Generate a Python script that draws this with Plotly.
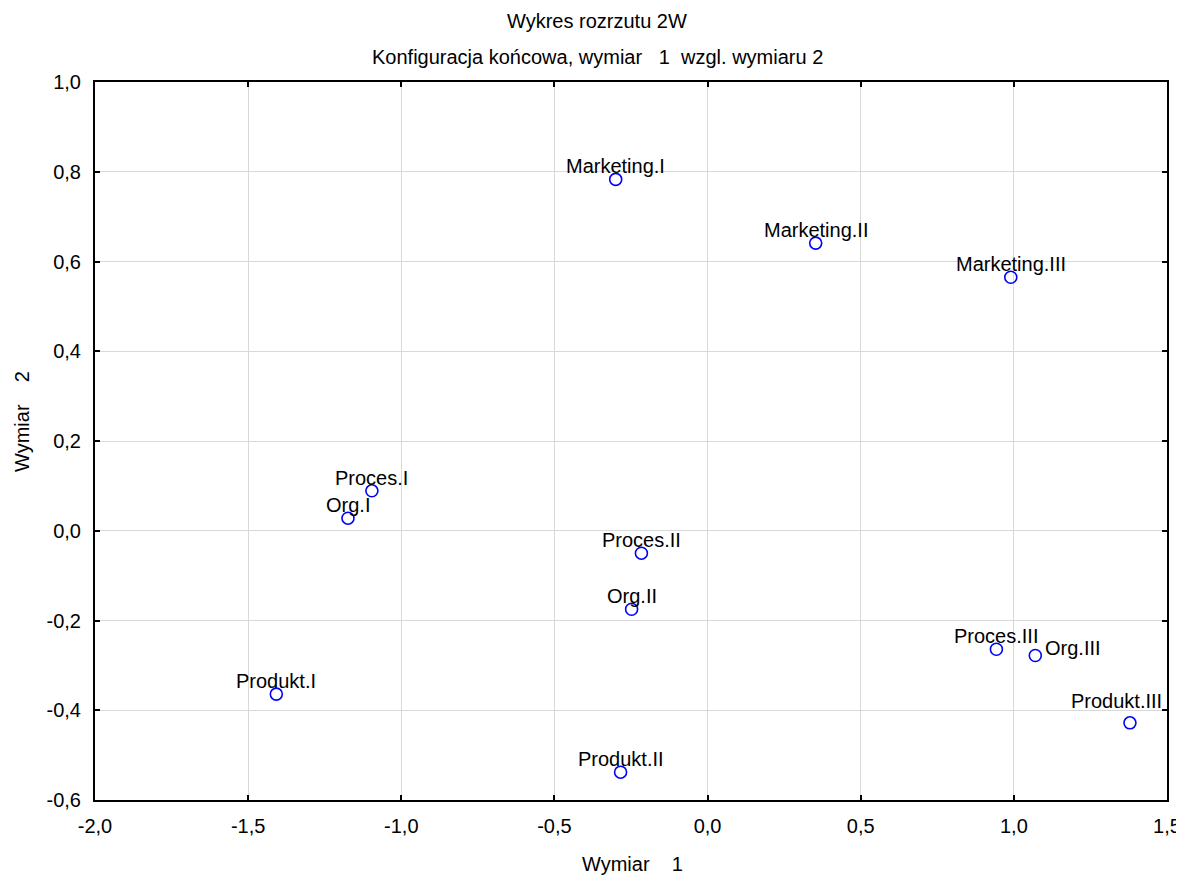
import plotly.graph_objects as go

labels = ["Marketing.I", "Marketing.II", "Marketing.III",
          "Proces.I", "Org.I", "Proces.II", "Org.II",
          "Proces.III", "Org.III", "Produkt.III",
          "Produkt.I", "Produkt.II"]
dim1 = [-0.300, 0.353, 0.990, -1.096, -1.174, -0.216, -0.248,
        0.943, 1.070, 1.379, -1.408, -0.284]
dim2 = [0.783, 0.641, 0.565, 0.089, 0.028, -0.050, -0.175,
        -0.264, -0.278, -0.428, -0.364, -0.538]

x_ticks = [-2.0, -1.5, -1.0, -0.5, 0.0, 0.5, 1.0, 1.5]
x_ticktext = ["-2,0", "-1,5", "-1,0", "-0,5", "0,0", "0,5", "1,0", "1,5"]
y_ticks = [-0.6, -0.4, -0.2, 0.0, 0.2, 0.4, 0.6, 0.8, 1.0]
y_ticktext = ["-0,6", "-0,4", "-0,2", "0,0", "0,2", "0,4", "0,6", "0,8", "1,0"]

title1 = "Wykres rozrzutu 2W"
title2 = "Konfiguracja końcowa, wymiar\u00a0\u00a0\u00a01\u00a0\u00a0wzgl. wymiaru 2"
xtitle = "Wymiar\u00a0\u00a0\u00a0\u00a01"
ytitle = "Wymiar\u00a0\u00a0\u00a0\u00a02"

FONT = "Liberation Sans, Arial, sans-serif"
FS = 20

# page body has an 8px margin
OFF = 8
W, H = 1184, 877 - OFF
# plot-area edges in window pixels
PX0, PX1, PY0, PY1 = 95, 1167, 82, 800
L, T = PX0 - OFF, PY0 - OFF
R, B = W - (PX1 - OFF), H - (PY1 - OFF)

# label placement tweaks (pixels)
default_off = dict(xanchor="center", xshift=0, yshift=0)
label_off = {
    "Org.III": dict(xanchor="left", xshift=8, yshift=-5),
    "Produkt.III": dict(xanchor="center", xshift=-13, yshift=9),
}

fig = go.Figure()
fig.add_trace(go.Scatter(
    x=dim1, y=dim2, mode="markers",
    marker=dict(symbol="circle-open", size=12, color="#0000ff",
                line=dict(width=1.6, color="#0000ff")),
    hovertext=labels, showlegend=False,
))

annotations = []
for lab, xv, yv in zip(labels, dim1, dim2):
    o = label_off.get(lab, default_off)
    annotations.append(dict(
        x=xv, y=yv, xref="x", yref="y", text=lab, showarrow=False,
        xanchor=o["xanchor"], yanchor="bottom",
        xshift=o["xshift"], yshift=o["yshift"],
        font=dict(family=FONT, size=FS, color="black"),
    ))

def paper_y(py):  # window pixel -> paper coordinate
    return 1 - (py - PY0) / (PY1 - PY0)

def paper_x(px):
    return (px - PX0) / (PX1 - PX0)

txt_font = dict(family=FONT, size=FS, color="black")
annotations += [
    dict(text=title1, xref="paper", yref="paper", x=paper_x(597), y=paper_y(9),
         xanchor="center", yanchor="top", borderpad=0, showarrow=False,
         font=txt_font),
    dict(text=title2, xref="paper", yref="paper", x=paper_x(597), y=paper_y(57),
         xanchor="center", yanchor="middle", showarrow=False, font=txt_font),
    dict(text=xtitle, xref="paper", yref="paper", x=paper_x(632), y=paper_y(864),
         xanchor="center", yanchor="middle", showarrow=False, font=txt_font),
    dict(text=ytitle, xref="paper", yref="paper", x=paper_x(22), y=paper_y(422),
         xanchor="center", yanchor="middle", showarrow=False, font=txt_font,
         textangle=-90),
]

axis_common = dict(
    showgrid=True, gridcolor="#d9d9d9", gridwidth=1,
    showline=True, linecolor="black", linewidth=2, mirror="ticks",
    ticks="inside", ticklen=5, tickwidth=1.5, tickcolor="black",
    zeroline=False, automargin=False,
    tickfont=dict(family=FONT, size=FS, color="black"),
)

fig.update_layout(
    width=W, height=H,
    margin=dict(l=L, r=R, t=T, b=B, autoexpand=False),
    paper_bgcolor="white", plot_bgcolor="white",
    font=dict(family=FONT, size=FS, color="black"),
    annotations=annotations,
    xaxis=dict(range=[-2.0, 1.5], tickmode="array", tickvals=x_ticks,
               ticktext=x_ticktext, ticklabelstandoff=7, **axis_common),
    yaxis=dict(range=[-0.6, 1.0], tickmode="array", tickvals=y_ticks,
               ticktext=y_ticktext, ticklabelstandoff=8, **axis_common),
)

fig.write_html("out.html")
